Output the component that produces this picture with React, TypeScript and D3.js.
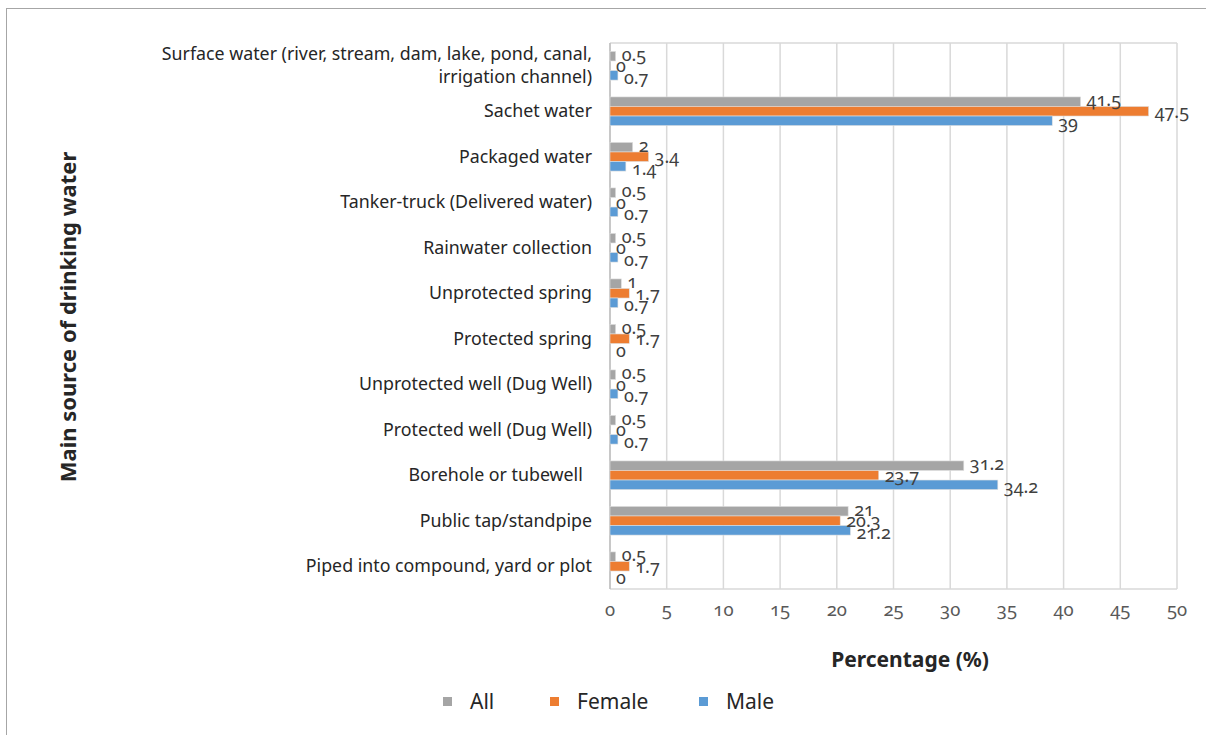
import React from "react";
import * as d3 from "d3";

const categories = [
  ["Surface water (river, stream, dam, lake, pond, canal,", "irrigation channel)"],
  ["Sachet water"],
  ["Packaged water"],
  ["Tanker-truck (Delivered water)"],
  ["Rainwater collection"],
  ["Unprotected spring"],
  ["Protected spring"],
  ["Unprotected well (Dug Well)"],
  ["Protected well (Dug Well)"],
  ["Borehole or tubewell\u00a0\u00a0"],
  ["Public tap/standpipe"],
  ["Piped into compound, yard or plot"],
];
const seriesNames = ["All", "Female", "Male"];
const seriesColors = ["#A5A5A5", "#ED7D31", "#5B9BD5"];
const allValues = [0.5, 41.5, 2, 0.5, 0.5, 1, 0.5, 0.5, 0.5, 31.2, 21, 0.5];
const femaleValues = [0, 47.5, 3.4, 0, 0, 1.7, 1.7, 0, 0, 23.7, 20.3, 1.7];
const maleValues = [0.7, 39, 1.4, 0.7, 0.7, 0.7, 0, 0.7, 0.7, 34.2, 21.2, 0];
const xTicks = [0, 5, 10, 15, 20, 25, 30, 35, 40, 45, 50];

const W = 1206;
const H = 735;
const left = 610;
const right = 1177;
const top = 43;
const bottom = 589;

export default function App() {
  const series = [allValues, femaleValues, maleValues];
  const ids = categories.map((_, i) => String(i));
  const x = d3.scaleLinear().domain([0, 50]).range([left, right]);
  const y0 = d3
    .scaleBand<string>()
    .domain(ids)
    .range([top, bottom])
    .paddingInner(0.37)
    .paddingOuter(0.185);
  const y1 = d3
    .scaleBand<string>()
    .domain(seriesNames)
    .range([0, y0.bandwidth()]);
  const numFont = {
    fontFamily: "'Noto Sans', sans-serif",
    fontFeatureSettings: "'onum' 1",
    fontVariantNumeric: "oldstyle-nums",
  } as React.CSSProperties;
  const fmt = (v: number) => String(v);
  const legendX = [443, 550, 699];
  const labelSpread = 11.5;

  return (
    <svg
      width={W}
      height={H}
      style={{ position: "absolute", left: 0, top: 0, background: "#fff" }}
      fontFamily="'Noto Sans', sans-serif"
    >
      {/* outer frame */}
      <line x1={6} y1={8.5} x2={W} y2={8.5} stroke="#a6a6a6" strokeWidth={1} />
      <line x1={6.5} y1={8} x2={6.5} y2={H} stroke="#a6a6a6" strokeWidth={1} />

      {/* gridlines */}
      {xTicks.map((t) => (
        <line
          key={t}
          x1={x(t)}
          x2={x(t)}
          y1={top}
          y2={bottom}
          stroke="#d9d9d9"
          strokeWidth={1.5}
        />
      ))}
      <line x1={left} x2={right} y1={top} y2={top} stroke="#d9d9d9" strokeWidth={1.5} />
      <line x1={left} x2={right} y1={bottom} y2={bottom} stroke="#d9d9d9" strokeWidth={1.5} />
      <line x1={left} x2={left} y1={top} y2={bottom} stroke="#bfbfbf" strokeWidth={1.5} />

      {/* bars */}
      {ids.map((id, ci) =>
        seriesNames.map((s, si) => {
          const v = series[si][ci];
          const yy = (y0(id) as number) + (y1(s) as number);
          return (
            <rect
              key={id + s}
              x={x(0)}
              y={yy}
              width={x(v) - x(0)}
              height={y1.bandwidth()}
              fill={seriesColors[si]}
              stroke="#e0e0e0"
              strokeWidth={0.6}
            />
          );
        })
      )}

      {/* data labels */}
      {ids.map((id, ci) =>
        seriesNames.map((s, si) => {
          const v = series[si][ci];
          const yy =
            (y0(id) as number) + y0.bandwidth() / 2 + (si - 1) * labelSpread;
          return (
            <text
              key={"l" + id + s}
              x={x(v) + 6}
              y={yy}
              dy="0.35em"
              fontSize={18}
              fill="#404040"
              style={numFont}
            >
              {fmt(v)}
            </text>
          );
        })
      )}

      {/* category labels */}
      {ids.map((id, ci) => {
        const lines = categories[ci];
        const cy = (y0(id) as number) + y0.bandwidth() / 2;
        const lh = 23;
        return (
          <text
            key={"c" + id}
            x={592}
            textAnchor="end"
            fontSize={17.8}
            fill="#262626"
          >
            {lines.map((ln, li) => (
              <tspan
                key={li}
                x={592}
                y={cy + (li - (lines.length - 1) / 2) * lh}
                dy="0.35em"
              >
                {ln}
              </tspan>
            ))}
          </text>
        );
      })}

      {/* x tick labels */}
      {xTicks.map((t) => (
        <text
          key={"t" + t}
          x={x(t)}
          y={610}
          textAnchor="middle"
          dy="0.35em"
          fontSize={18.5}
          fill="#595959"
          style={numFont}
        >
          {t}
        </text>
      ))}

      {/* axis titles */}
      <text
        x={910}
        y={660}
        textAnchor="middle"
        dy="0.35em"
        fontSize={21}
        fontWeight="bold"
        fill="#262626"
      >
        Percentage (%)
      </text>
      <text
        transform={`translate(68,317) rotate(-90)`}
        textAnchor="middle"
        dy="0.35em"
        fontSize={22}
        fontWeight="bold"
        fill="#262626"
      >
        Main source of drinking water
      </text>

      {/* legend */}
      {seriesNames.map((s, i) => (
        <g key={"lg" + s}>
          <rect x={legendX[i]} y={697} width={9} height={9} fill={seriesColors[i]} />
          <text x={legendX[i] + 27} y={702} dy="0.35em" fontSize={21} fill="#262626">
            {s}
          </text>
        </g>
      ))}
    </svg>
  );
}
